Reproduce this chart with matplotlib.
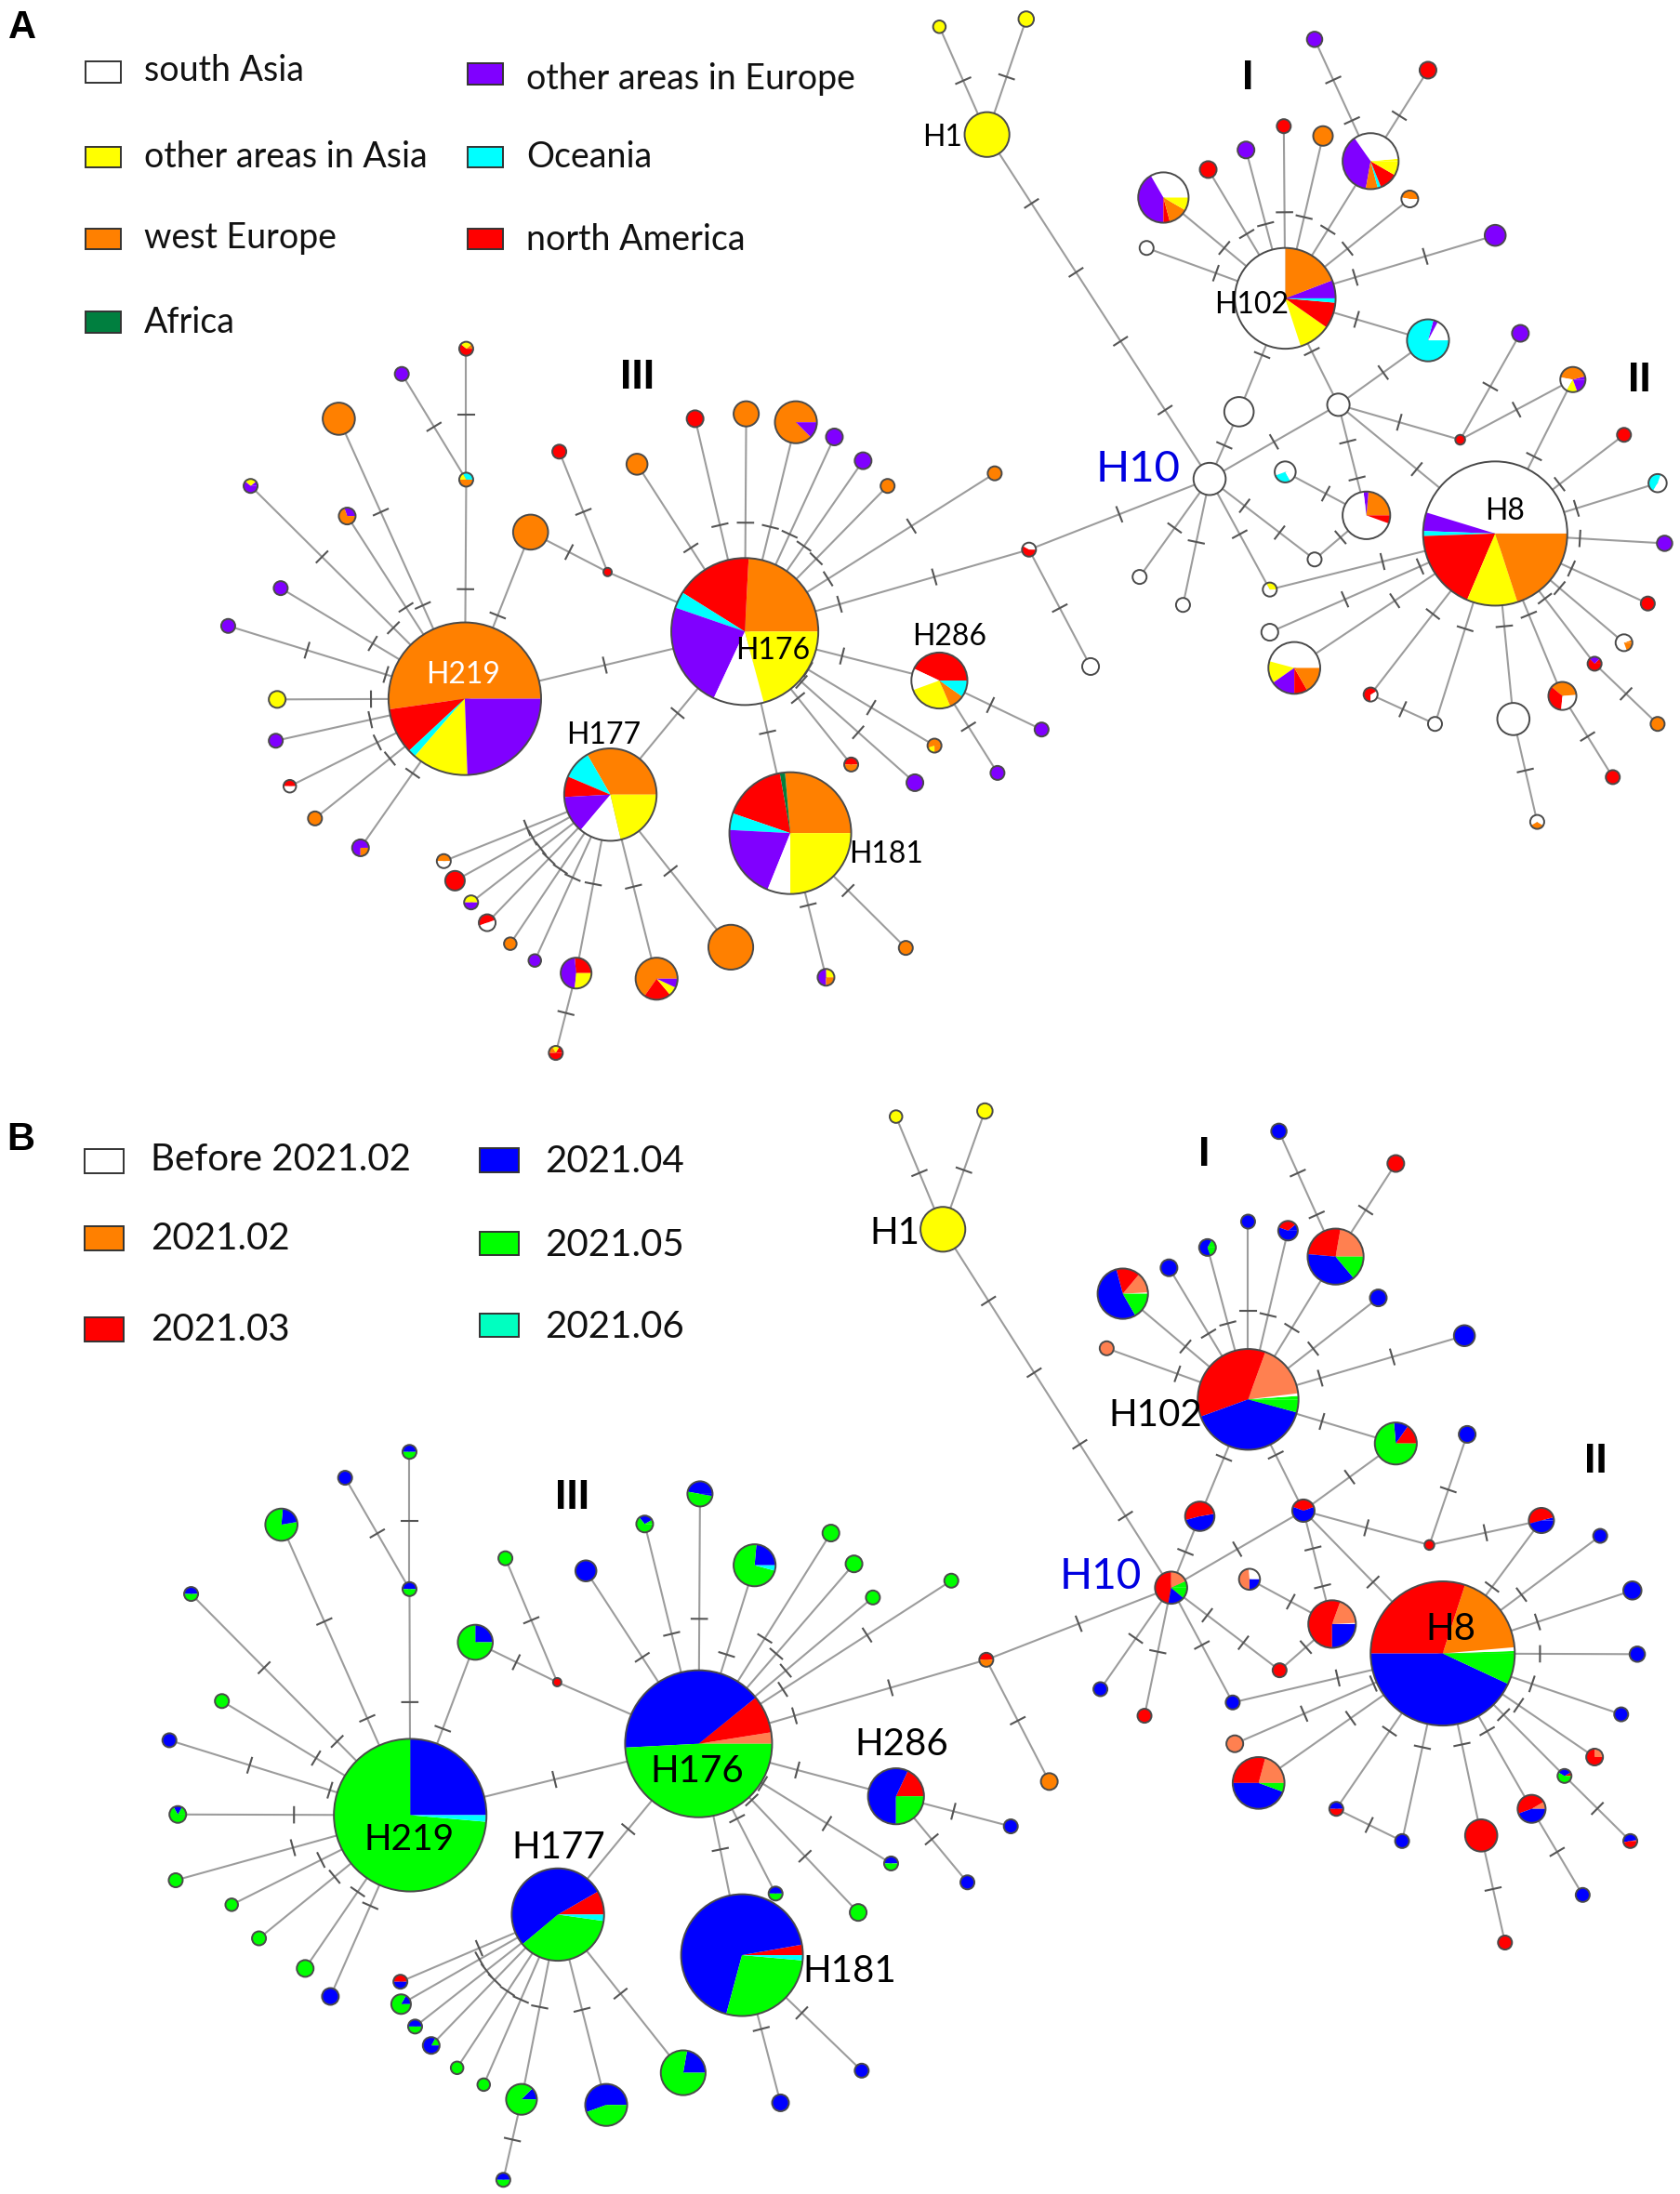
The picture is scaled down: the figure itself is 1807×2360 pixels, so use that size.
import matplotlib
matplotlib.use("Agg")
import matplotlib.pyplot as plt
from matplotlib.patches import Circle, Rectangle

COLORS = {'w': '#ffffff', 'y': '#ffff00', 'o': '#ff8000', 'd': '#007f3f', 'p': '#8000ff',
          'c': '#00ffff', 'r': '#ff0000', 'b': '#0000ff', 'n': '#00ff00', 'l': '#ff8050', 't': '#00ffc0'}

# haplotype sizes (circle radius)
SIZE = {'H1': 16, 'H1a': 4.5, 'H1b': 5.5, 'H10': 11.5, 'H102': 36, 'Ia': 5.5, 'Ib': 6, 'Pi': 20,
        'c1': 5, 'c2': 7, 'c3': 6, 'c4': 6, 'Pj': 18, 'c5': 6, 'c6': 5, 'c7': 7.5, 'Pc': 15,
        'm1': 10.5, 'm2': 8, 't1': 3.5, 'd1': 6, 'Pk': 9, 'H8': 51.5,
        'e1': 5, 'e2': 6.5, 'e3': 5.5, 'e4': 5, 'e5': 6, 'e6': 5, 'e7': 5, 'e8': 10, 'e9': 5,
        'e10': 11.5, 'e11': 5, 'e12': 5, 'e13': 5, 'e14': 18.5, 'e15': 6, 'e16': 5,
        'f1': 7.5, 'Pm': 17, 'f2': 5, 'f3': 5, 'f4': 5, 'J': 5, 'J1': 6,
        'H176': 52.5, 'g1': 5, 'g2': 5, 'g3': 6, 'g4': 6, 'g5': 15, 'g6': 9, 'g7': 6, 'g8': 7.5,
        'H219': 54.5, 't2': 3, 'h1': 5, 'h2': 12.5, 'k0': 5, 'k1': 5, 'k2': 5,
        'k3': 11.5, 'k4': 6, 'k5': 5, 'k6': 5, 'k7': 5, 'k8': 6, 'k9': 5, 'k10': 4.5, 'k11': 5, 'k12': 6,
        'H286': 20, 'q1': 5, 'q2': 5, 'u1': 5, 'u2': 6, 'u3': 5,
        'H177': 33, 'H181': 43.5, 'v1': 5, 'v2': 7, 'v3': 5, 'v4': 6, 'v5': 4.5, 'v6': 4.5,
        'v7': 11, 'v8': 5, 'v9': 15, 'v10': 16, 'x1': 6, 'x2': 5}

# network layout, panel A
A_POS = {'H1': (705, 96), 'H1a': (671, 19), 'H1b': (733, 13.5), 'H10': (864, 342), 'H102': (918, 213),
         'Ia': (939, 28), 'Ib': (1020, 50), 'Pi': (979, 115), 'c1': (917, 90), 'c2': (945, 97),
         'c3': (890, 107), 'c4': (863, 121), 'Pj': (831, 141), 'c5': (1007, 142), 'c6': (819, 177),
         'c7': (1068, 168), 'Pc': (1020, 243), 'm1': (885, 294), 'm2': (956, 289), 't1': (1043, 314),
         'd1': (1086, 238), 'Pk': (1123.5, 271), 'H8': (1068, 381), 'e1': (1160, 310.5), 'e2': (1184, 345),
         'e3': (1189, 388), 'e4': (1177, 431), 'e5': (1160, 459), 'e6': (1139, 474), 'e7': (1184, 517),
         'e8': (1116, 497), 'e9': (1152, 555), 'e10': (1081, 513.5), 'e11': (1098, 587), 'e12': (1025, 517),
         'e13': (979, 496), 'e14': (924.5, 477), 'e15': (907, 451.5), 'e16': (907, 421), 'f1': (918, 337),
         'Pm': (976, 368), 'f2': (939, 399.5), 'f3': (814, 412), 'f4': (845, 432), 'J': (735, 392.5),
         'J1': (779, 476), 'H176': (532, 451), 'g1': (710.5, 338), 'g2': (634, 347), 'g3': (616.5, 329),
         'g4': (596, 312), 'g5': (568.5, 301.5), 'g6': (533, 295.5), 'g7': (496.5, 299), 'g8': (455, 331.5),
         'H219': (332, 499), 't2': (434, 408.5), 'h1': (399.5, 322.5), 'h2': (379, 380), 'k0': (333, 342.5),
         'k1': (333, 249), 'k2': (287, 267), 'k3': (242, 299), 'k4': (248, 368.5), 'k5': (179, 347),
         'k6': (200.5, 420), 'k7': (163, 447), 'k8': (198, 499.5), 'k9': (197, 529), 'k10': (207, 561.5),
         'k11': (225, 584.5), 'k12': (257.5, 605.5), 'H286': (671, 486), 'q1': (712.5, 552), 'q2': (744, 521),
         'u1': (667.5, 532.5), 'u2': (653.5, 559), 'u3': (608, 546), 'H177': (436, 567.5), 'H181': (564.5, 595),
         'v1': (317, 615), 'v2': (325, 629), 'v3': (336.5, 644.5), 'v4': (348, 659), 'v5': (364.5, 674),
         'v6': (382, 686), 'v7': (411.5, 695), 'v8': (397, 752), 'v9': (469, 699), 'v10': (522, 676.5),
         'x1': (590, 698), 'x2': (647, 677)}

# network layout, panel B
B_POS = {'H1': (673.5, 878), 'H1a': (640, 797.5), 'H1b': (703.5, 793.5), 'H10': (836.5, 1134), 'H102': (891.5, 999.5),
         'Ia': (913.5, 808), 'Ib': (997, 831), 'Pi': (954, 897.5), 'c1': (891.5, 872.5), 'c2': (920, 879),
         'c3': (862.5, 891), 'c4': (835, 905.5), 'Pj': (802, 924), 'c5': (984.5, 927), 'c6': (790.5, 963),
         'c7': (1046, 954), 'Pc': (997, 1031), 'm1': (857, 1083), 'm2': (931, 1079), 't1': (1021, 1103.5),
         'd1': (1048, 1024.5), 'Pk': (1101, 1086), 'H8': (1030.5, 1181), 'e1': (1143, 1097), 'e2': (1166, 1136),
         'e3': (1169.5, 1181.5), 'e4': (1158, 1224.5), 'e5': (1139, 1255), 'e6': (1117.5, 1268.5), 'e7': (1164.5, 1315),
         'e8': (1094, 1292), 'e9': (1130.5, 1353.5), 'e10': (1058, 1311), 'e11': (1075, 1387.5), 'e12': (1001.5, 1315),
         'e13': (954.5, 1292), 'e14': (899, 1273.5), 'e15': (882, 1245.5), 'e16': (880.5, 1216), 'f1': (892.5, 1128),
         'Pm': (951.5, 1160), 'f2': (914, 1193), 'f3': (786, 1206.5), 'f4': (817.5, 1225.5), 'J': (704.5, 1185.5),
         'J1': (749.5, 1272.5), 'H176': (499, 1245.5), 'g1': (679.5, 1129), 'g2': (623.5, 1141), 'g3': (610, 1117),
         'g4': (593.5, 1095), 'g5': (539, 1118), 'g6': (500, 1067), 'g7': (460.5, 1088.5), 'g8': (418.5, 1122),
         'H219': (293, 1296.5), 't2': (398, 1201.5), 'h1': (361, 1113), 'h2': (339.5, 1173), 'k0': (292.5, 1135),
         'k1': (292.5, 1037), 'k2': (246.5, 1055.5), 'k3': (201, 1089), 'k4': (236, 1426), 'k5': (136.5, 1138.5),
         'k6': (158.5, 1215), 'k7': (121, 1243), 'k8': (127, 1296), 'k9': (125.5, 1343), 'k10': (165.5, 1360.5),
         'k11': (185, 1384.5), 'k12': (218, 1406), 'H286': (640, 1283), 'q1': (691, 1344.5), 'q2': (722, 1304.5),
         'u1': (636.5, 1331), 'u2': (613, 1366), 'u3': (554, 1352.5), 'H177': (398.5, 1367.5), 'H181': (530, 1396.5),
         'v1': (286, 1415.5), 'v2': (286.5, 1431.5), 'v3': (296.5, 1447.5), 'v4': (308, 1461), 'v5': (326.5, 1477),
         'v6': (345.5, 1489), 'v7': (372.5, 1499.5), 'v8': (359.5, 1557), 'v9': (433, 1503.5), 'v10': (488, 1480.5),
         'x1': (557.5, 1502), 'x2': (615.5, 1479)}

# links between haplotypes, grouped by the number of mutation marks
EDGES_0 = [('H176', 't2')]
EDGES_1 = [('H1', 'H1a'), ('H1', 'H1b'), ('H10', 'm1'), ('m1', 'H102'), ('H10', 'm2'), ('m2', 'H102'), ('m2', 'Pc'),
           ('m2', 't1'), ('t1', 'd1'), ('t1', 'Pk'), ('Pk', 'H8'), ('m2', 'H8'), ('Pm', 'f1'), ('Pm', 'f2'),
           ('H10', 'e16'), ('H10', 'f3'), ('H10', 'f4'), ('e16', 'H8'), ('e14', 'H8'), ('e13', 'H8'), ('e13', 'e12'),
           ('e12', 'H8'), ('e10', 'H8'), ('e10', 'e11'), ('e8', 'H8'), ('e8', 'e9'), ('e6', 'H8'), ('e6', 'e7'),
           ('e5', 'H8'), ('e4', 'H8'), ('e3', 'H8'), ('e2', 'H8'), ('e1', 'H8'),
           ('H102', 'Pi'), ('Pi', 'Ib'), ('H102', 'c1'), ('H102', 'c2'), ('H102', 'c3'), ('H102', 'c4'), ('H102', 'Pj'),
           ('H102', 'c6'), ('H102', 'c5'), ('H102', 'Pc'),
           ('J', 'H10'), ('J', 'J1'), ('H219', 'H176'), ('H176', 'g2'), ('H176', 'g3'), ('H176', 'g4'), ('H176', 'g5'),
           ('H176', 'g6'), ('H176', 'g7'), ('H176', 'g8'), ('H176', 'H177'), ('H176', 'H181'), ('H176', 'u3'),
           ('H176', 'H286'), ('H286', 'q1'), ('H286', 'q2'),
           ('H219', 'k0'), ('k0', 'k1'), ('k0', 'k2'), ('H219', 'k4'), ('H219', 'k6'), ('H219', 'k8'), ('H219', 'k9'),
           ('H219', 'k10'), ('H219', 'k11'), ('H219', 'k12'), ('H219', 'h2'), ('h2', 't2'), ('t2', 'h1'),
           ('H177', 'v1'), ('H177', 'v2'), ('H177', 'v3'), ('H177', 'v4'), ('H177', 'v5'), ('H177', 'v6'), ('H177', 'v7'),
           ('v7', 'v8'), ('H177', 'v9'), ('H177', 'v10'), ('H181', 'x1'), ('H181', 'x2')]
EDGES_2 = [('m2', 'Pm'), ('H10', 'f2'), ('e15', 'H8'), ('Pi', 'Ia'), ('H102', 'c7'), ('H176', 'g1'), ('H176', 'J'),
           ('H176', 'u1'), ('H176', 'u2'), ('H219', 'k3'), ('H219', 'k5'), ('H219', 'k7')]
EDGES_4 = [('H1', 'H10')]

# slices, anticlockwise from east
A_SINGLE = {'y': ['H1', 'H1a', 'H1b', 'k8'], 'w': ['H10', 'c6', 'm1', 'm2', 'e10', 'e12', 'e15', 'f2', 'f3', 'f4', 'J1'],
            'p': ['Ia', 'c3', 'c7', 'd1', 'e3', 'g3', 'g4', 'k2', 'k6', 'k7', 'k9', 'q1', 'q2', 'u2', 'v6'],
            'r': ['Ib', 'c1', 'c4', 't1', 'e1', 'e4', 'e9', 'g7', 't2', 'h1', 'v2'],
            'o': ['c2', 'e7', 'g1', 'g2', 'g6', 'g8', 'h2', 'k3', 'k11', 'v5', 'v10', 'x2']}
A_SLICES = {'H102': ('powyrc', [21, 69, 198, 37, 30, 5]), 'Pi': ('ywpocry', [5, 120, 135, 25, 7, 38, 30]),
            'Pj': ('wproy', [120, 150, 15, 45, 30]), 'c5': ('ow', [170, 190]), 'Pc': ('wpc', [62, 13, 285]),
            'Pk': ('powyp', [15, 155, 70, 50, 70]), 'H8': ('wpcryo', [163, 15, 4, 65, 41, 72]),
            'e2': ('wcw', [70, 170, 120]), 'e5': ('owo', [20, 270, 70]), 'e6': ('rpr', [45, 90, 225]),
            'e8': ('worw', [5, 135, 125, 95]), 'e11': ('wow', [210, 120, 30]), 'e13': ('wrw', [30, 240, 90]),
            'e14': ('wypro', [165, 50, 55, 30, 60]), 'e16': ('yw', [120, 240]), 'f1': ('wcw', [200, 100, 60]),
            'Pm': ('opwr', [85, 12, 243, 20]), 'J': ('wr', [150, 210]),
            'H176': ('orcpwy', [87, 61, 13, 84, 40, 75]), 'g5': ('op', [315, 45]),
            'H219': ('orcyp', [188, 35, 6, 43, 88]), 'k0': ('cyo', [120, 60, 180]), 'k1': ('oyr', [40, 100, 220]),
            'k4': ('po', [110, 250]), 'k5': ('pyp', [40, 100, 220]), 'k10': ('rw', [180, 180]),
            'k12': ('po', [270, 90]), 'H286': ('rwyoc', [155, 45, 93, 32, 35]),
            'u1': ('oyo', [200, 70, 90]), 'u3': ('ro', [180, 180]),
            'H177': ('ocrpwy', [120, 37, 26, 47, 53, 77]), 'H181': ('odrcpwy', [95, 5, 61, 16, 71, 22, 90]),
            'v1': ('ow', [180, 180]), 'v3': ('yp', [180, 180]), 'v4': ('wrw', [20, 180, 160]),
            'v7': ('rpy', [95, 170, 95]), 'v8': ('ryor', [60, 60, 60, 180]), 'v9': ('oryp', [235, 75, 25, 25]),
            'x1': ('ypo', [90, 180, 90])}

B_SINGLE = {'y': ['H1', 'H1a', 'H1b'], 'b': ['Ia', 'c1', 'c4', 'c5', 'c7', 'd1', 'e1', 'e2', 'e3', 'e4', 'e9', 'e12',
                                             'e16', 'f3', 'g8', 'k2', 'k4', 'k7', 'q1', 'q2', 'x1', 'x2'],
            'r': ['Ib', 't1', 'e10', 'e11', 'f2', 'f4', 't2'], 'l': ['c6', 'e15'], 'o': ['J1'],
            'n': ['g1', 'g2', 'g3', 'g4', 'h1', 'k6', 'k9', 'k10', 'k11', 'k12', 'u2', 'v5', 'v6']}
B_SLICES = {'H102': ('nwlrbn', [4, 3, 63, 130, 145, 15]), 'Pi': ('lrbn', [80, 95, 135, 50]),
            'c2': ('brb', [40, 120, 200]), 'c3': ('nbn', [60, 230, 70]), 'Pj': ('wlrbn', [3, 47, 55, 195, 60]),
            'Pc': ('rbn', [55, 40, 265]), 'm1': ('brb', [10, 185, 165]), 'm2': ('brb', [20, 140, 200]),
            'Pk': ('brb', [15, 180, 165]), 'H8': ('nworbn', [2, 3, 67, 108, 155, 25]),
            'e5': ('lr', [90, 270]), 'e6': ('rbn', [30, 120, 210]), 'e7': ('rbr', [10, 180, 170]),
            'e8': ('lrb', [30, 170, 160]), 'e13': ('br', [180, 180]), 'e14': ('lrbn', [75, 105, 160, 20]),
            'f1': ('wlb', [95, 175, 90]), 'Pm': ('wlrb', [3, 67, 200, 90]), 'H10': ('nlrbn', [25, 65, 170, 60, 40]),
            'J': ('ro', [180, 180]), 'H176': ('lrbn', [9, 30, 144, 177]), 'g5': ('bnc', [85, 260, 15]),
            'g6': ('bnb', [170, 180, 10]), 'g7': ('nbn', [30, 100, 230]), 'h2': ('bn', [90, 270]),
            'H219': ('bnc', [90, 265, 5]), 'k0': ('bn', [180, 180]), 'k1': ('bn', [180, 180]), 'k3': ('nbn', [10, 75, 275]),
            'k5': ('bn', [180, 180]), 'k8': ('nbn', [60, 60, 240]), 'H286': ('rbn', [65, 205, 90]),
            'u1': ('bn', [180, 180]), 'u3': ('bn', [180, 180]), 'H177': ('rbnc', [30, 190, 132, 8]),
            'H181': ('rbnc', [10, 245, 100, 5]), 'v1': ('rb', [180, 180]), 'v2': ('bn', [60, 300]),
            'v3': ('bn', [180, 180]), 'v4': ('nb', [60, 300]), 'v7': ('bn', [45, 315]), 'v8': ('bn', [180, 180]),
            'v9': ('bn', [200, 160]), 'v10': ('bn', [80, 280])}

A_LEG_NAMES = ['south Asia', 'other areas in Asia', 'west Europe', 'Africa', 'other areas in Europe', 'Oceania', 'north America']
A_LEG_CATS = 'wyodpcr'
B_LEG_NAMES = ['Before 2021.02', '2021.02', '2021.03', '2021.04', '2021.05', '2021.06']
B_LEG_CATS = 'worbnt'

A_LABELS = [('H1', 673, 98, 23), ('H102', 894, 218, 23), ('H8', 1075, 365, 23), ('H219', 331, 482, 23),
            ('H176', 552, 465, 23), ('H286', 678, 455, 23), ('H177', 431, 525, 23), ('H181', 633, 610, 23)]
B_LABELS = [('H1', 639, 881, 29), ('H102', 825, 1011, 29), ('H8', 1036, 1164, 29), ('H219', 292, 1314, 28),
            ('H176', 498, 1265, 29), ('H286', 644, 1246, 29), ('H177', 399, 1320, 29), ('H181', 607, 1408, 29)]

W, H = 1200, 1567
fig = plt.figure(figsize=(18.07, 23.60), dpi=100)
ax = fig.add_axes([0, 0, 1, 1])
ax.set_xlim(0, W)
ax.set_ylim(H, 0)
ax.axis('off')
SANS = 'Lato'
BOLD = 'Liberation Sans'


def draw_network(pos, single, slices):
    lookup = {n: (k, [1]) for k, names in single.items() for n in names}
    lookup.update(slices)
    groups = [(EDGES_0, 0), (EDGES_1, 1), (EDGES_2, 2), (EDGES_4, 4)]
    for edges, marks in groups:
        for a, b in edges:
            (x0, y0), (x1, y1) = pos[a], pos[b]
            ax.plot([x0, x1], [y0, y1], color='#9c9c9c', lw=1.5, zorder=1, solid_capstyle='round')
            d = ((x1 - x0) ** 2 + (y1 - y0) ** 2) ** 0.5
            nx, ny = -(y1 - y0) / d, (x1 - x0) / d
            for i in range(1, marks + 1):
                t = i / (marks + 1)
                cx, cy = x0 + t * (x1 - x0), y0 + t * (y1 - y0)
                ax.plot([cx - 5.5 * nx, cx + 5.5 * nx], [cy - 5.5 * ny, cy + 5.5 * ny],
                        color='#555555', lw=1.5, zorder=2)
    for name, (x, y) in pos.items():
        cats, vals = lookup[name]
        r = SIZE[name]
        ax.pie(vals, colors=[COLORS[c] for c in cats], center=(x, y), radius=r, startangle=0,
               counterclock=False, frame=True, wedgeprops={'linewidth': 0, 'zorder': 3})
        ax.add_patch(Circle((x, y), r, fill=False, edgecolor='#4a4a4a', lw=1.4, zorder=4))


def legend(names, cats, xs, ys, tx, ty, hw, hh, fs):
    for n, c, x, y, tex, tey in zip(names, cats, xs, ys, tx, ty):
        ax.add_patch(Rectangle((x, y), hw, hh, facecolor=COLORS[c], edgecolor='#333333', lw=1.4, zorder=5))
        ax.text(tex, tey, n, fontsize=fs, family=SANS, color='#111111', va='center', ha='left', zorder=6)


draw_network(A_POS, A_SINGLE, A_SLICES)
draw_network(B_POS, B_SINGLE, B_SLICES)
ax.set_xlim(0, W)
ax.set_ylim(H, 0)
ax.axis('off')

legend(A_LEG_NAMES, A_LEG_CATS, [61] * 4 + [334] * 3, [44, 104.5, 163, 222.5, 45, 104.5, 163],
       [103] * 4 + [376] * 3, [50.5, 112, 170, 230.5, 56.5, 112, 171], 25.5, 15, 27)
legend(B_LEG_NAMES, B_LEG_CATS, [60.5] * 3 + [342.5] * 3, [821, 876, 941, 820, 879.5, 938],
       [107.5] * 3 + [389.5] * 3, [828, 885, 950, 829.5, 889.5, 948], 28, 17, 29)

for txt, x, y, fs in A_LABELS:
    ax.text(x, y, txt, fontsize=fs, family=SANS, ha='center', va='center', zorder=7,
            color='white' if txt == 'H219' else 'black')
for txt, x, y, fs in B_LABELS:
    ax.text(x, y, txt, fontsize=fs, family=SANS, ha='center', va='center', zorder=7, color='black')
ax.text(813, 335, 'H10', fontsize=34, family=SANS, color='#0000e0', ha='center', va='center', zorder=7)
ax.text(786, 1126, 'H10', fontsize=33, family=SANS, color='#0000e0', ha='center', va='center', zorder=7)

for txt, x, y in [('A', 16, 20), ('B', 15, 814)]:
    ax.text(x, y, txt, fontsize=30, family=BOLD, weight='bold', ha='center', va='center', zorder=7)
for txt, x, y in [('I', 891, 56), ('II', 1171, 272), ('III', 455, 270), ('I', 860, 825), ('II', 1140, 1044), ('III', 409, 1070)]:
    ax.text(x, y, txt, fontsize=32, family=BOLD, weight='bold', ha='center', va='center', zorder=7)

fig.savefig('out.png', dpi=100, facecolor='white')
